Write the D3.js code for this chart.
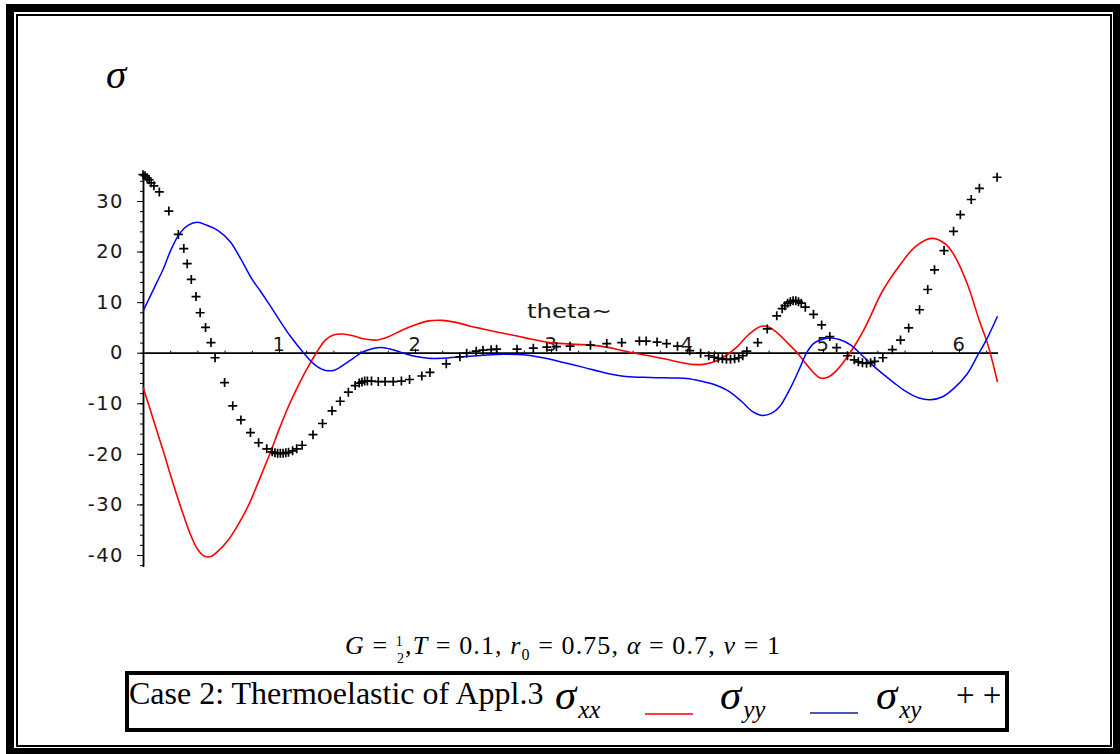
<!DOCTYPE html>
<html><head><meta charset="utf-8">
<script src="https://cdn.jsdelivr.net/npm/d3@7"></script>
<style>body{margin:0;background:#fff}svg{display:block}</style>
</head><body>
<svg id="chart" width="1120" height="754"></svg>
<script>
// ---- data ----
const thetaXX = [0,0.05,0.1,0.15,0.2,0.25,0.3,0.35,0.4,0.45,0.5,0.55,0.62,0.7,0.77,0.86,0.94,1.0,1.08,1.16,1.22,1.28,1.34,1.4,1.47,1.55,1.63,1.72,1.8,1.9,2.0,2.1,2.2,2.3,2.4,2.5,2.62,2.75,2.87,2.99,3.15,3.36,3.5,3.6,3.72,3.85,3.95,4.04,4.12,4.22,4.3,4.37,4.45,4.54,4.6,4.66,4.73,4.81,4.9,4.98,5.04,5.1,5.2,5.3,5.44,5.57,5.68,5.8,5.9,5.96,6.06,6.15,6.21,6.283];
const sigmaXX = [-6.8,-11,-15.3,-19.5,-24,-28.3,-32.3,-36,-38.8,-40.2,-40.3,-39.3,-37.3,-34,-30.5,-24.8,-19.5,-15.2,-10,-5.5,-2.5,0.2,2.5,3.5,3.7,3.3,2.7,2.5,3.1,4.4,5.5,6.3,6.4,6,5.3,4.7,4,3.3,2.6,2.0,1.7,1.3,0.6,0,-0.6,-1.3,-1.9,-2.3,-2.3,-1.6,-0.3,1.2,3.5,5.2,5.1,4,2.2,0,-3,-5,-4.8,-3.5,0,4.5,12.3,17.5,21,22.6,21.5,19.5,13.7,6.3,1.8,-5.8];

const thetaYY = [0,0.05,0.1,0.15,0.2,0.27,0.33,0.4,0.47,0.55,0.64,0.72,0.8,0.86,0.93,1.0,1.08,1.18,1.26,1.33,1.4,1.48,1.55,1.62,1.7,1.77,1.85,1.93,2.0,2.1,2.2,2.35,2.5,2.65,2.8,2.94,3.1,3.24,3.4,3.55,3.73,3.9,4.0,4.1,4.2,4.3,4.4,4.48,4.55,4.62,4.68,4.76,4.83,4.88,4.93,4.98,5.05,5.12,5.2,5.29,5.37,5.44,5.52,5.6,5.7,5.79,5.88,5.96,6.06,6.14,6.21,6.283];
const sigmaYY = [8.2,11,13.8,16.6,20,23.6,25.2,25.8,25.2,24.2,22,18.5,14.6,12.3,9.5,6.6,3.4,0,-2.3,-3.4,-3.5,-2.3,-1,0.2,0.9,1.0,0.5,-0.2,-0.7,-1.1,-1.1,-0.8,-0.5,-0.3,-0.4,-1.0,-2,-2.9,-4,-4.7,-4.9,-5,-5.1,-5.6,-6.3,-7.5,-9.6,-11.6,-12.4,-12,-10.7,-7,-3,0,1.8,2.5,2.9,2.6,1.6,-0.6,-2.6,-4.2,-5.9,-7.5,-8.9,-9.3,-8.7,-7.1,-4.2,-0.4,3.0,7.2];

const thetaXY = [0,0.015,0.03,0.045,0.06,0.08,0.12,0.19,0.26,0.3,0.325,0.355,0.39,0.42,0.46,0.5,0.53,0.6,0.66,0.72,0.79,0.85,0.91,0.95,0.97,0.99,1.01,1.03,1.05,1.07,1.1,1.13,1.17,1.25,1.32,1.39,1.45,1.51,1.56,1.59,1.61,1.63,1.65,1.68,1.73,1.78,1.84,1.9,1.96,2.05,2.11,2.23,2.33,2.38,2.45,2.5,2.56,2.6,2.75,2.87,2.97,3.04,3.14,3.29,3.41,3.52,3.65,3.7,3.78,3.85,3.93,4.02,4.1,4.16,4.2,4.23,4.26,4.29,4.32,4.35,4.38,4.41,4.44,4.52,4.59,4.66,4.7,4.72,4.74,4.76,4.78,4.8,4.82,4.84,4.87,4.93,4.99,5.05,5.1,5.18,5.23,5.26,5.29,5.32,5.35,5.38,5.44,5.51,5.57,5.63,5.71,5.77,5.82,5.89,5.96,6.01,6.09,6.15,6.28];
const sigmaXY = [35.2,35.0,34.6,34.2,33.6,33.0,31.8,28,23.4,20.6,17.6,14.5,11.1,7.9,5.0,2.0,-1.0,-5.9,-10.5,-13.3,-15.8,-17.8,-19.0,-19.6,-19.8,-19.9,-19.9,-19.9,-19.8,-19.7,-19.4,-19.0,-18.3,-16.2,-14.0,-11.5,-9.6,-7.8,-6.5,-6.0,-5.8,-5.6,-5.6,-5.6,-5.7,-5.7,-5.7,-5.6,-5.3,-4.6,-3.9,-2.2,-0.8,-0.1,0.3,0.5,0.6,0.7,0.7,0.9,1.1,1.2,1.3,1.5,1.8,2.0,2.3,2.3,2.1,1.8,1.3,0.4,-0.1,-0.6,-0.9,-1.1,-1.2,-1.3,-1.3,-1.2,-1.0,-0.6,0.3,2.0,4.7,7.3,8.7,9.3,9.8,10.1,10.3,10.3,10.1,9.8,9.0,7.6,5.5,3.2,1.0,-0.6,-1.4,-1.8,-2.0,-2.1,-2.0,-1.7,-1.0,0.6,2.5,4.9,8.5,12.5,16.4,20.2,24.0,27.3,30.3,32.5,34.7];

const yTicks = [-40,-30,-20,-10,0,10,20,30];
const yTickLabels = ["-40","-30","-20","-10","0","10","20","30"];
const xTicks = [1,2,3,4,5,6];
const xTickLabels = ["1","2","3","4","5","6"];

// ---- drawing ----
const svg = d3.select("#chart");
svg.append("rect").attr("width",1120).attr("height",754).attr("fill","#fff");

// frame
const frame = svg.append("g").attr("fill","#000");
frame.append("rect").attr("x",6).attr("y",4).attr("width",8).attr("height",750);
frame.append("rect").attr("x",6).attr("y",4).attr("width",1114).attr("height",8);
frame.append("rect").attr("x",1113).attr("y",4).attr("width",7).attr("height",750);
frame.append("rect").attr("x",6).attr("y",748).attr("width",1114).attr("height",6);
frame.append("rect").attr("x",16).attr("y",14).attr("width",2).attr("height",733);
frame.append("rect").attr("x",16).attr("y",14).attr("width",1096).attr("height",2);
frame.append("rect").attr("x",1110).attr("y",14).attr("width",2).attr("height",733);
frame.append("rect").attr("x",16).attr("y",745).attr("width",1096).attr("height",2);

const x = d3.scaleLinear().domain([0, 2*Math.PI]).range([143, 143 + 2*Math.PI*136]);
const y = d3.scaleLinear().domain([-40, 30]).range([555, 201]);
const y0 = y(0);

const tickFont = g => g.selectAll("text").attr("font-family","DejaVu Sans, sans-serif")
  .attr("font-size",19.5).attr("fill","#1a1a1a").attr("letter-spacing",1.5);

// y axis
const yAxisScale = d3.scaleLinear().domain([-42.2, 35.6]).range([y(-42.2), y(35.6)]);
const gy = svg.append("g").attr("transform",`translate(${x(0)},0)`);
gy.call(d3.axisLeft(yAxisScale).tickValues(d3.range(-42,36,2)).tickSize(3).tickFormat("").tickSizeOuter(0));
const gy2 = svg.append("g").attr("transform",`translate(${x(0)},0)`);
gy2.call(d3.axisLeft(yAxisScale).tickValues(yTicks).tickSize(6).tickPadding(13)
  .tickFormat((d,i)=>yTickLabels[i]).tickSizeOuter(0));
gy2.call(tickFont);
svg.selectAll("g path.domain").attr("stroke","#000").attr("stroke-width",1.5);

// x axis
const gx = svg.append("g").attr("transform",`translate(0,${y0})`);
gx.call(d3.axisTop(x).tickValues(d3.range(0.2,6.25,0.2)).tickSize(2).tickFormat("").tickSizeOuter(0));
const gx2 = svg.append("g").attr("transform",`translate(0,${y0})`);
gx2.call(d3.axisTop(x).tickValues(xTicks).tickSize(4).tickPadding(-2)
  .tickFormat((d,i)=>xTickLabels[i]).tickSizeOuter(0));
gx.select("path.domain").attr("stroke","#000").attr("stroke-width",1.5);
gx2.select("path.domain").attr("stroke","#000").attr("stroke-width",1.5);
gx2.call(tickFont);

svg.append("text").attr("x",527).attr("y",318).attr("font-family","DejaVu Sans, sans-serif")
  .attr("font-size",19).attr("fill","#1a1a1a").attr("textLength",85).attr("lengthAdjust","spacingAndGlyphs").text("theta~");

// curves
const line = d3.line().x(d=>x(d[0])).y(d=>y(d[1])).curve(d3.curveCatmullRom.alpha(0.5));
svg.append("path").datum(thetaXX.map((t,i)=>[t,sigmaXX[i]])).attr("d",line)
  .attr("fill","none").attr("stroke","#ff0000").attr("stroke-width",1.6);
svg.append("path").datum(thetaYY.map((t,i)=>[t,sigmaYY[i]])).attr("d",line)
  .attr("fill","none").attr("stroke","#0000ff").attr("stroke-width",1.5);
svg.append("g").selectAll("path").data(thetaXY.map((t,i)=>[t,sigmaXY[i]])).join("path")
  .attr("transform",d=>`translate(${x(d[0])},${y(d[1])})`)
  .attr("d","M-4.5,0H4.5M0,-4.5V4.5").attr("stroke","#000").attr("stroke-width",1.7).attr("fill","none");

// top sigma
svg.append("text").attr("x",106).attr("y",88).attr("font-family","Liberation Serif, serif")
  .attr("font-style","italic").attr("font-size",41).attr("fill","#000").text("σ");

// formula
const f = svg.append("text").attr("x",345).attr("y",654).attr("font-family","Liberation Serif, serif")
  .attr("font-size",26).attr("fill","#000").attr("textLength",435).attr("lengthAdjust","spacing");
f.append("tspan").attr("font-style","italic").text("G");
f.append("tspan").text(" = ");
f.append("tspan").attr("font-size",14).attr("dy",-8).text("1");
f.append("tspan").attr("font-size",14).attr("dx",-7).attr("dy",17).text("2");
f.append("tspan").attr("dy",-9).text(",");
f.append("tspan").attr("font-style","italic").text("T");
f.append("tspan").text("  = 0.1, ");
f.append("tspan").attr("font-style","italic").text("r");
f.append("tspan").attr("font-size",16).attr("dy",6).text("0");
f.append("tspan").attr("dy",-6).text(" = 0.75, ");
f.append("tspan").attr("font-style","italic").text("α");
f.append("tspan").text(" = 0.7, ");
f.append("tspan").attr("font-style","italic").text("ν");
f.append("tspan").text(" = 1");

// legend box
svg.append("rect").attr("x",127).attr("y",673).attr("width",880).attr("height",57)
  .attr("fill","none").attr("stroke","#000").attr("stroke-width",4);
svg.append("text").attr("x",129).attr("y",704).attr("font-family","Liberation Serif, serif")
  .attr("font-size",32).attr("fill","#000").text("Case 2: Thermoelastic of Appl.3");
function sig(xp, sub){
  const t = svg.append("text").attr("x",xp).attr("y",709).attr("font-family","Liberation Serif, serif")
    .attr("font-style","italic").attr("fill","#000");
  t.append("tspan").attr("font-size",43).text("σ");
  t.append("tspan").attr("font-size",25).attr("dx",2).attr("dy",9).text(sub);
}
sig(555,"xx"); sig(720,"yy"); sig(876,"xy");
svg.append("line").attr("x1",645).attr("x2",693).attr("y1",714).attr("y2",714).attr("stroke","#ff0000").attr("stroke-width",1.5);
svg.append("line").attr("x1",810).attr("x2",858).attr("y1",713).attr("y2",713).attr("stroke","#1a1aa6").attr("stroke-width",1.5);
svg.append("text").attr("x",956).attr("y",706).attr("font-family","Liberation Serif, serif")
  .attr("font-size",33).attr("fill","#000").text("+ +");
</script>
</body></html>
